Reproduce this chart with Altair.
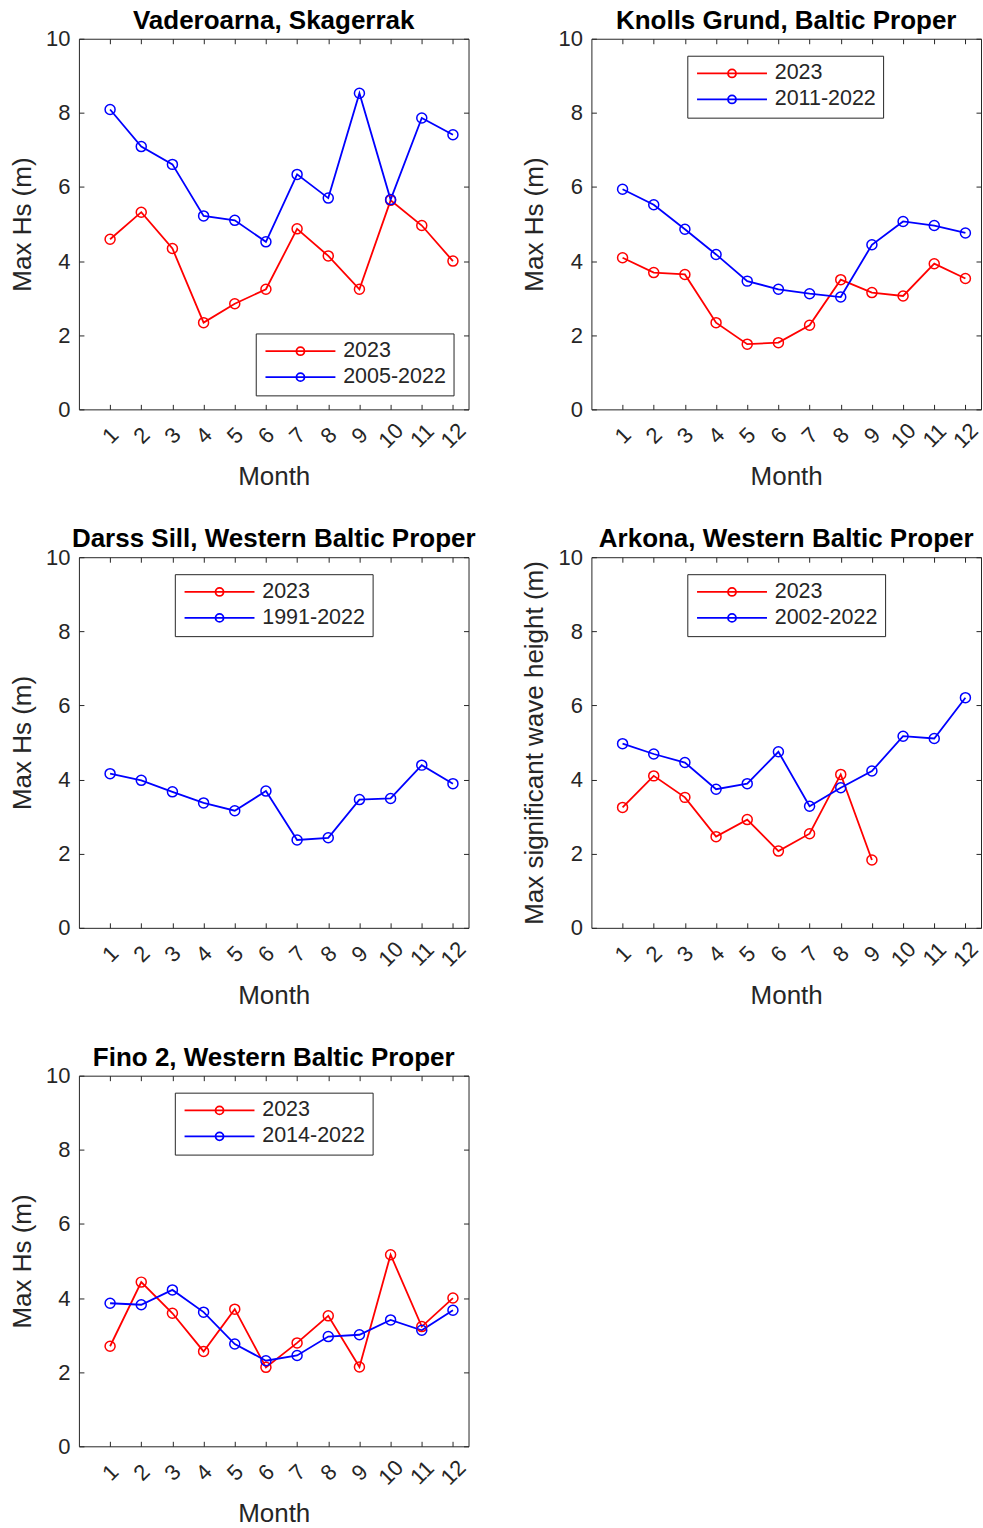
import altair as alt
import pandas as pd

months = list(range(1, 13))
y_ticks = [0, 2, 4, 6, 8, 10]

titles = [
    "Vaderoarna, Skagerrak",
    "Knolls Grund, Baltic Proper",
    "Darss Sill, Western Baltic Proper",
    "Arkona, Western Baltic Proper",
    "Fino 2, Western Baltic Proper",
]
y_titles = ["Max Hs (m)", "Max Hs (m)", "Max Hs (m)",
            "Max significant wave height (m)", "Max Hs (m)"]
periods = ["2005-2022", "2011-2022", "1991-2022", "2002-2022", "2014-2022"]

vader_2023 = [4.59, 5.32, 4.34, 2.34, 2.85, 3.24, 4.87, 4.14, 3.24, 5.64, 4.96, 4.00]
vader_hist = [8.09, 7.09, 6.61, 5.22, 5.10, 4.52, 6.34, 5.70, 8.53, 5.66, 7.86, 7.41]
knolls_2023 = [4.09, 3.69, 3.64, 2.34, 1.76, 1.80, 2.27, 3.50, 3.15, 3.06, 3.93, 3.53]
knolls_hist = [5.94, 5.52, 4.86, 4.18, 3.46, 3.24, 3.12, 3.03, 4.44, 5.07, 4.96, 4.76]
darss_2023 = []
darss_hist = [4.16, 3.98, 3.67, 3.37, 3.16, 3.69, 2.37, 2.43, 3.46, 3.49, 4.39, 3.89]
arkona_2023 = [3.25, 4.10, 3.52, 2.46, 2.92, 2.07, 2.54, 4.14, 1.83]
arkona_hist = [4.97, 4.69, 4.46, 3.74, 3.89, 4.75, 3.28, 3.78, 4.23, 5.17, 5.11, 6.21]
fino_2023 = [2.70, 4.43, 3.59, 2.56, 3.70, 2.13, 2.79, 3.52, 2.14, 5.17, 3.23, 4.00]
fino_hist = [3.86, 3.82, 4.22, 3.62, 2.76, 2.31, 2.45, 2.96, 3.01, 3.41, 3.13, 3.67]

reds = [vader_2023, knolls_2023, darss_2023, arkona_2023, fino_2023]
blues = [vader_hist, knolls_hist, darss_hist, arkona_hist, fino_hist]
legend_pos = [(177, 295), (96, 17), (96, 17), (96, 17), (96, 17)]

FONT = "Liberation Sans"
AX = "#262626"
LEG_PATH = "M-1.6,0L12.4,0M6.2,0A0.8,0.8 0 1,1 4.6,0A0.8,0.8 0 1,1 6.2,0"


def panel(title, ytitle, period, red, blue, lx, ly):
    rows = [{"month": m, "hs": v, "series": "2023"} for m, v in zip(months, red)]
    rows += [{"month": m, "hs": v, "series": period} for m, v in zip(months, blue)]
    df = pd.DataFrame(rows, columns=["month", "hs", "series"])
    xs = alt.Scale(domain=[0, 12.5], nice=False, zero=False)
    ys = alt.Scale(domain=[0, 10], nice=False)
    x_axis = alt.Axis(values=months, title="Month", labelAngle=315,
                      labelAlign="center", labelBaseline="middle",
                      labelOverlap=False,
                      labelPadding=26, offset=-5, tickSize=5, domain=False,
                      grid=False, labelFontSize=22, titleFontSize=26,
                      titleFontWeight="normal", titlePadding=12,
                      labelColor=AX, titleColor=AX, tickColor=AX,
                      labelFont=FONT, titleFont=FONT)
    y_axis = alt.Axis(values=y_ticks, title=ytitle, offset=-5, tickSize=5,
                      labelPadding=9, domain=False, grid=False,
                      labelOverlap=False,
                      labelFontSize=22, titleFontSize=26,
                      titleFontWeight="normal", titlePadding=10,
                      labelColor=AX, titleColor=AX, tickColor=AX,
                      labelFont=FONT, titleFont=FONT)
    color = alt.Color(
        "series:N",
        scale=alt.Scale(domain=["2023", period], range=["#ff0000", "#0000ff"]),
        legend=alt.Legend(orient="none", legendX=lx, legendY=ly, title=None,
                          symbolType=LEG_PATH, symbolSize=100,
                          symbolStrokeWidth=1.8, symbolFillColor="transparent",
                          labelFontSize=21.5, labelFont=FONT, labelColor=AX,
                          labelOffset=59, rowPadding=3, padding=7,
                          strokeColor=AX, fillColor="white"),
    )
    lines = alt.Chart(df).mark_line(
        strokeWidth=1.8,
        point=alt.OverlayMarkDef(filled=False, size=100, strokeWidth=1.5),
    ).encode(
        x=alt.X("month:Q", scale=xs, axis=x_axis),
        y=alt.Y("hs:Q", scale=ys, axis=y_axis),
        color=color,
    )
    mirror = alt.Chart(df).mark_point(opacity=0).encode(
        x=alt.X("month:Q", scale=xs, title=None,
                axis=alt.Axis(orient="top", values=months, labels=False,
                              offset=-5, tickSize=5, domain=False, grid=False,
                              tickColor=AX)),
        y=alt.Y("hs:Q", scale=ys, title=None,
                axis=alt.Axis(orient="right", values=y_ticks, labels=False,
                              offset=-5, tickSize=5, domain=False, grid=False,
                              tickColor=AX)),
    )
    return alt.layer(lines, mirror).resolve_axis(
        x="independent", y="independent"
    ).properties(
        width=390, height=371,
        title=alt.TitleParams(title, fontSize=26, fontWeight="bold", font=FONT,
                              color="black", offset=-6, anchor="middle"),
    )


panels = [panel(titles[i], y_titles[i], periods[i], reds[i], blues[i],
                *legend_pos[i]) for i in range(5)]

chart = alt.concat(*panels, columns=2, spacing={"row": 148, "column": 123},
                   bounds="flush").resolve_scale(color="independent").properties(
    padding={"left": 9, "top": 6, "right": 0, "bottom": 0},
    background="white",
).configure_view(stroke=AX, strokeWidth=1)

chart.save("out.html", embed_options={"renderer": "svg", "actions": False})
